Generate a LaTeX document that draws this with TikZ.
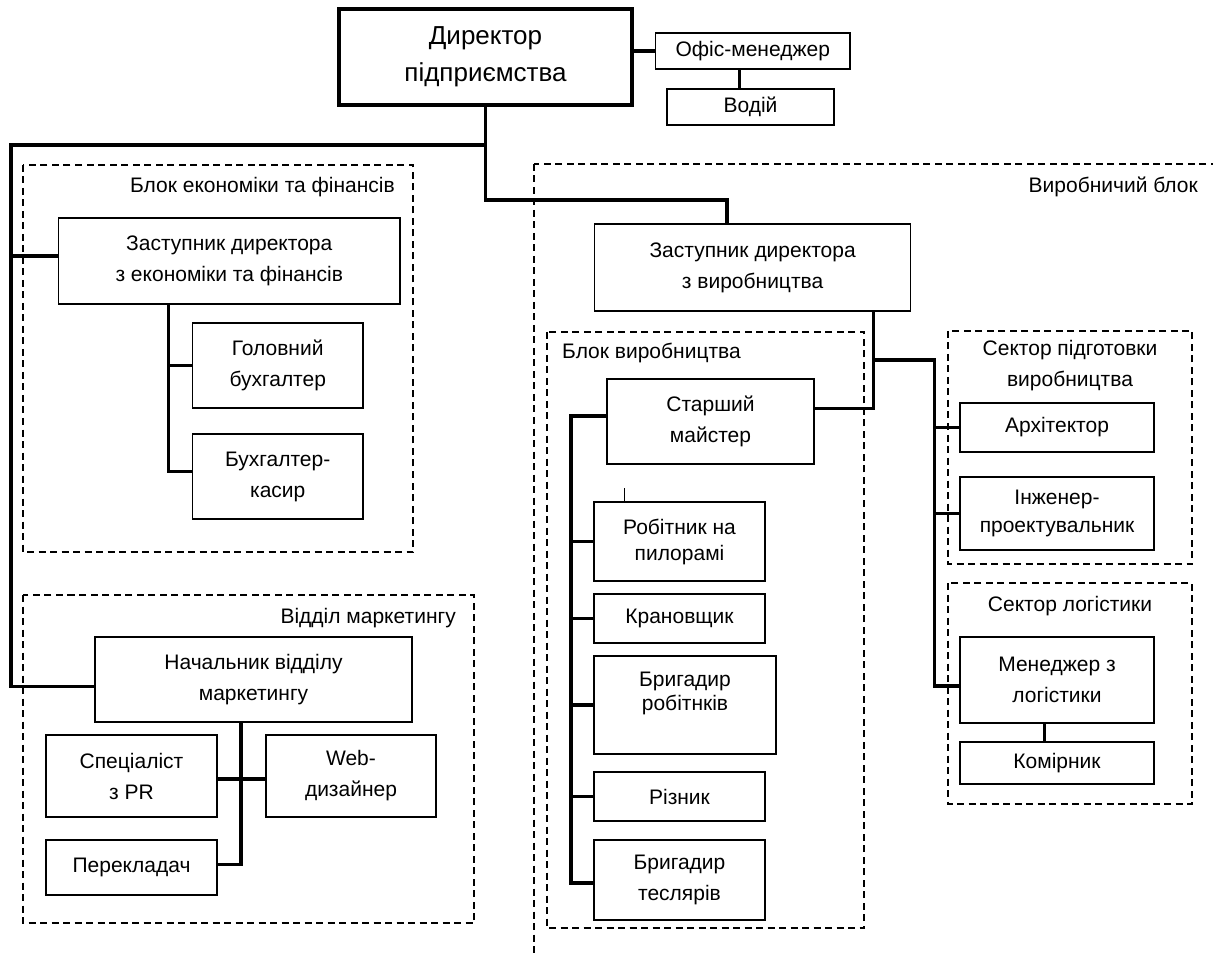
\documentclass[tikz,border=0pt]{standalone}
\usepackage{fontspec}
\setmainfont{Liberation Sans}
\usetikzlibrary{positioning}
\usetikzlibrary{calc}

\newcommand{\postsize}{\fontsize{21}{31}\selectfont}
\newcommand{\chiefsize}{\fontsize{26}{37}\selectfont}

\tikzset{
  post/.style={draw, line width=1.3pt, align=center, inner sep=0pt, font=\postsize},
  chief/.style={post, line width=3.5pt, font=\chiefsize},
  link/.style={line width=3.2pt},
  thinlink/.style={line width=1pt},
  unit/.style={line width=1.8pt, dash pattern=on 7pt off 4.5pt},
  unitname/.style={inner sep=0pt, align=center, font=\postsize},
}

\begin{document}
\begin{tikzpicture}[x=1pt, y=-1pt]
        \useasboundingbox (0,0) rectangle (1213,957);

        \draw[unit] (23,165) rectangle (413,552);
        \draw[unit] (23,595) rectangle (474,923);
        \draw[unit] (534,164) rectangle (1240,990);
        \draw[unit] (547,332) rectangle (864,928);
        \draw[unit] (948,331) rectangle (1192,564);
        \draw[unit] (948,583) rectangle (1192,804);

        \node [unitname, anchor=base east] (econName)   at (395,193)   {Блок економіки та фінансів};
        \node [unitname, anchor=base east] (marketName) at (456,623)   {Відділ маркетингу};
        \node [unitname, anchor=base east] (prodName)   at (1198,193)  {Виробничий блок};
        \node [unitname, anchor=base west] (shopName)   at (562,359)   {Блок виробництва};
        \node [unitname]                   (prepName)   at (1070,366)  {Сектор підготовки\\виробництва};
        \node [unitname, anchor=base]      (logName)    at (1070,611)  {Сектор логістики};

        \node [chief, minimum width=293pt, minimum height=96pt]  (dir)    at (485.5,57)    {Директор\\підприємства};
        \node [post, minimum width=194.5pt, minimum height=36pt] (office) at (752.75,51)   {Офіс-менеджер};
        \node [post, minimum width=167pt, minimum height=36pt]   (driver) at (750.5,107)   {Водій};

        \node [post, minimum width=341.5pt, minimum height=86pt] (depEcon) at (229.25,261)  {Заступник директора\\з економіки та фінансів};
        \node [post, minimum width=170.5pt, minimum height=85pt] (chiefAcc) at (277.75,365.5) {Головний\\бухгалтер};
        \node [post, minimum width=170.5pt, minimum height=85pt] (cashier) at (277.75,476.5) {Бухгалтер-\\касир};

        \node [post, minimum width=317pt, minimum height=85pt]   (headMkt) at (253.5,679.5) {Начальник відділу\\маркетингу};
        \node [post, minimum width=171pt, minimum height=82pt]   (pr)      at (131.5,776)   {Спеціаліст\\з PR};
        \node [post, minimum width=170pt, minimum height=82pt]   (webdes)  at (351,776)     {Web-\\дизайнер};
        \node [post, minimum width=171pt, minimum height=55pt]   (transl)  at (131.5,867.5) {Перекладач};

        \node [post, minimum width=316pt, minimum height=87pt]   (depProd) at (752.6,267.5) {Заступник директора\\з виробництва};
        \node [post, minimum width=207pt, minimum height=85pt]   (master)  at (710.5,421.5) {Старший\\майстер};
        \node [post, minimum width=171pt, minimum height=79pt]   (sawyer)  at (679.5,541.5) {Робітник на\\[-5pt]пилорамі};
        \node [post, minimum width=171pt, minimum height=49pt]   (crane)   at (679.5,618.5) {Крановщик};
        \node [post, minimum width=182pt, minimum height=98pt]   (foreWork) at (685,705)    {Бригадир\\[-7pt]робітнків\rule[-28pt]{0pt}{0pt}};
        \node [post, minimum width=171pt, minimum height=49pt]   (cutter)  at (679.5,796.5) {Різник};
        \node [post, minimum width=171pt, minimum height=80pt]   (foreCarp) at (679.5,880)  {Бригадир\\теслярів};

        \node [post, minimum width=194pt, minimum height=49pt]   (architect) at (1057,427.5) {Архітектор};
        \node [post, minimum width=194pt, minimum height=73pt]   (designer)  at (1057,513.5) {Інженер-\\[-3pt]проектувальник};
        \node [post, minimum width=194pt, minimum height=86pt]   (logMan)    at (1057,680)   {Менеджер з\\логістики};
        \node [post, minimum width=194pt, minimum height=42pt]   (keeper)    at (1057,763)   {Комірник};

        \coordinate (leftBus)  at (11,145);
        \coordinate (rightBus) at (727,200);
        \coordinate (econBus)  at ([xshift=-61pt]depEcon.south);
        \coordinate (mktBus)   at ([xshift=-12.5pt]headMkt.south);
        \coordinate (prodBus)  at ([xshift=121pt]depProd.south);
        \coordinate (prepBus)  at (934.5,360);
        \coordinate (shopBus)  at (571,416);
        \coordinate (stray)    at (624,488);

        \draw[link] (dir.south) |- (leftBus) |- ([yshift=-7pt]headMkt.west);
        \draw[link] (dir.south) |- (rightBus) -- (rightBus |- depProd.north);
        \draw[link] (econBus) |- ([yshift=5pt]cashier.west);
        \draw[link] (mktBus) |- ([yshift=3pt]transl.east);
        \draw[link] (prodBus) |- ([yshift=13pt]master.east);
        \draw[link] (prodBus |- prepBus) -- (prepBus) |- ([yshift=-6pt]logMan.west);
        \draw[link] ([yshift=5.5pt]master.west) -- (shopBus) |- ([yshift=-3pt]foreCarp.west);

        \path[link]
          (dir.east |- office.west) edge (office.west)
          ([xshift=-13pt]office.south) edge ([xshift=-13pt]office.south |- driver.north)
          ([yshift=5pt]leftBus |- depEcon.west) edge ([yshift=5pt]depEcon.west)
          (econBus |- chiefAcc.west) edge (chiefAcc.west)
          ([yshift=-3pt]pr.east) edge ([yshift=-3pt]webdes.west)
          (shopBus |- sawyer.west) edge (sawyer.west)
          (shopBus |- crane.west) edge (crane.west)
          (shopBus |- foreWork.west) edge (foreWork.west)
          (shopBus |- cutter.west) edge (cutter.west)
          (prepBus |- architect.west) edge (architect.west)
          (prepBus |- designer.west) edge (designer.west)
          ([xshift=-12.5pt]logMan.south) edge ([xshift=-12.5pt]logMan.south |- keeper.north)
          ;
        \draw[thinlink] (stray) -- (stray |- sawyer.north);
\end{tikzpicture}
\end{document}
